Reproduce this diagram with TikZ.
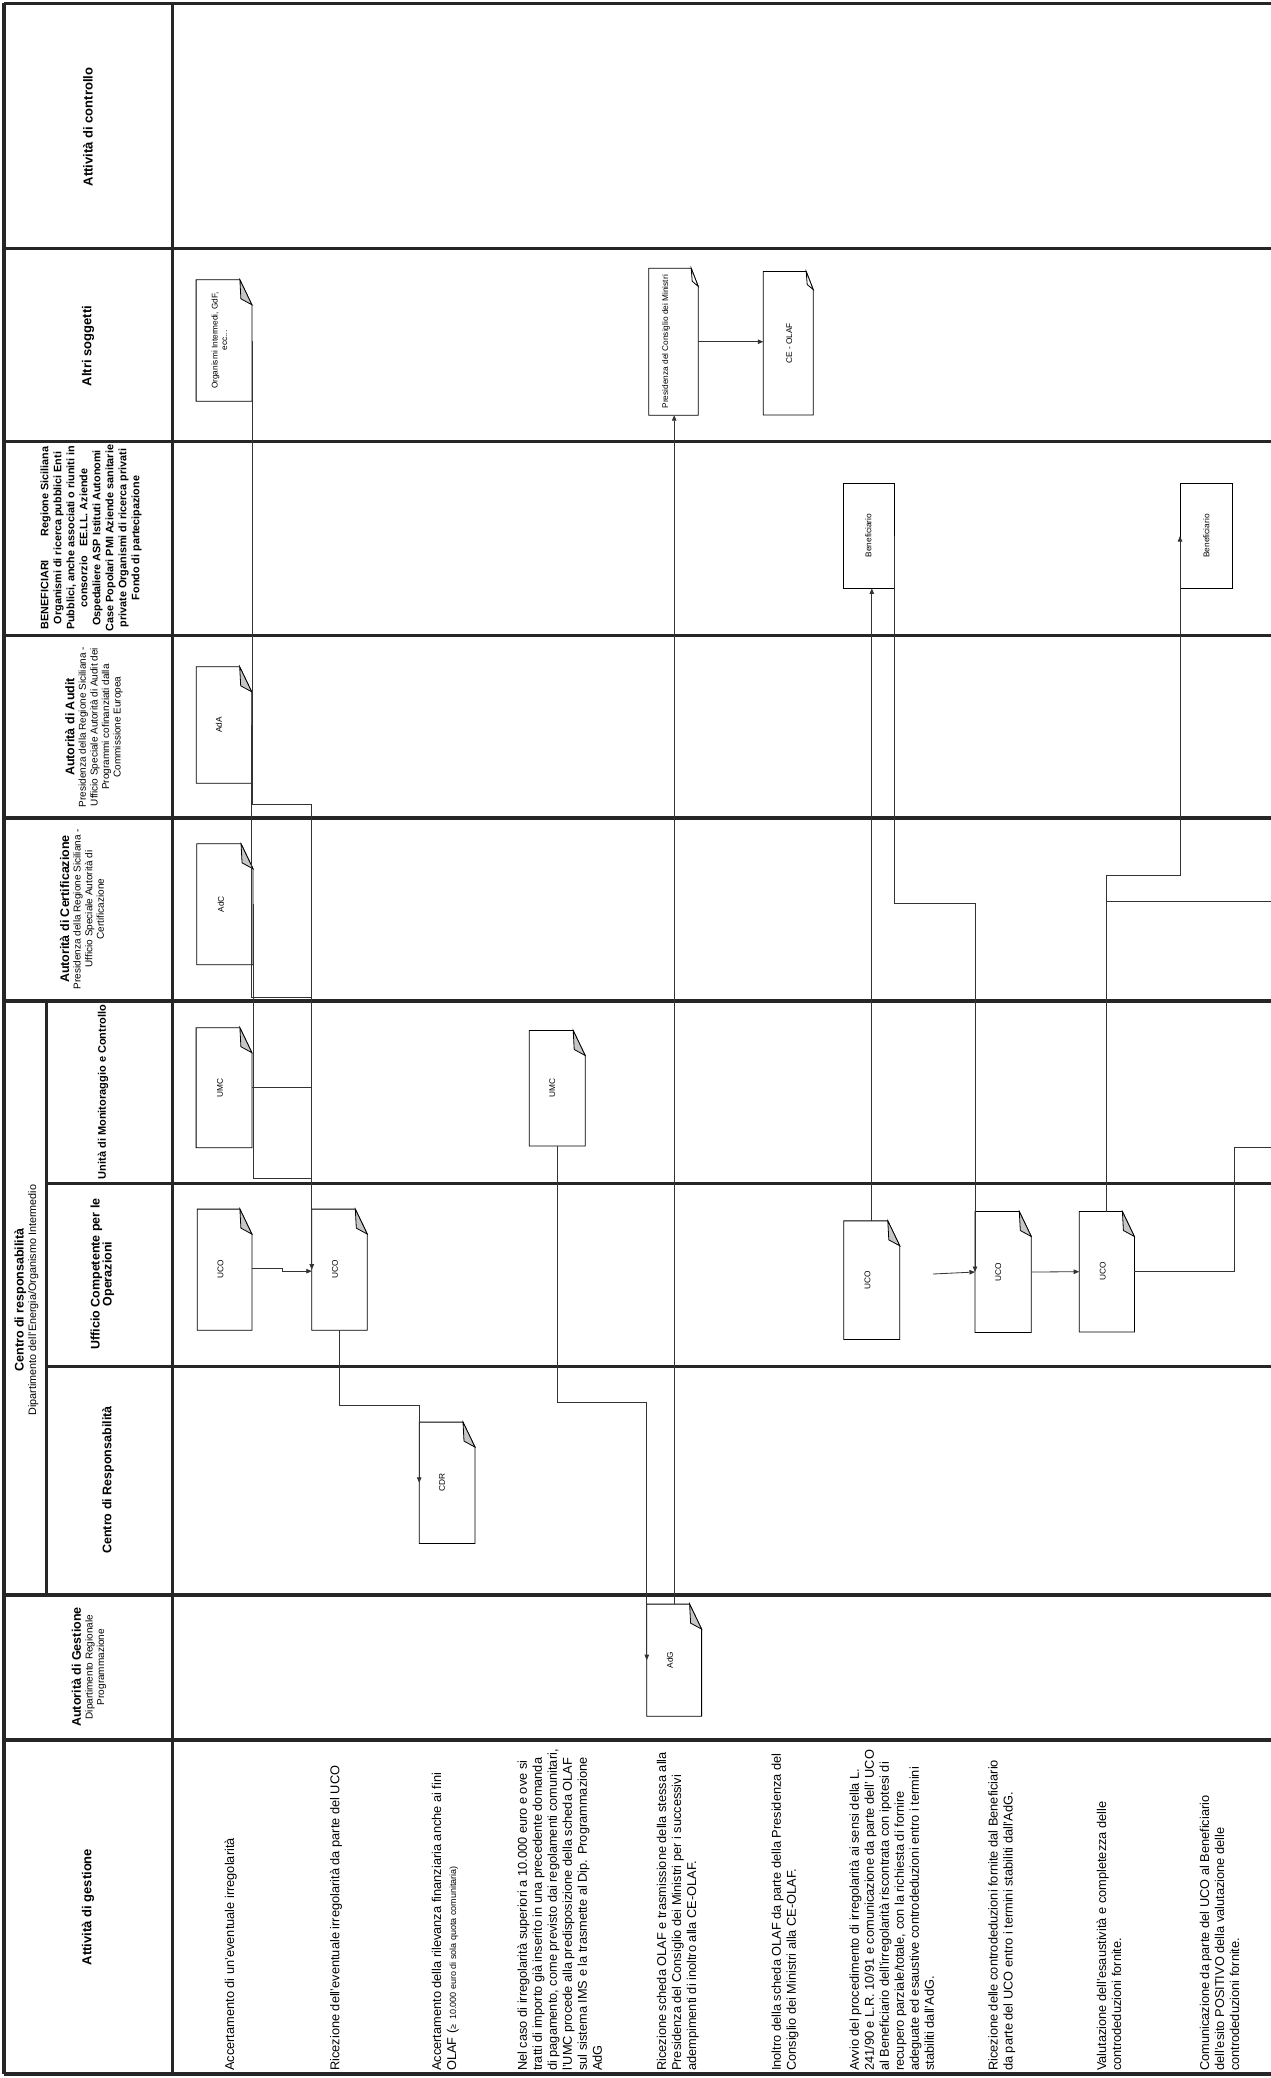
\documentclass[tikz,border=0pt]{standalone}
\usepackage{fontspec}
\setmainfont{Liberation Sans}
\usetikzlibrary{arrows.meta,calc}
\tikzset{
  lane/.style={line width=3.2pt, draw=black!85, line cap=square},
  conn/.style={line width=0.8pt, draw=black!80},
  arr/.style={conn, -{Triangle[length=5.5pt,width=4.5pt]}},
  hdr/.style={rotate=90, font=\fontsize{13}{15}\selectfont\bfseries, align=center, inner sep=0pt},
  hdrtwo/.style={rotate=90, font=\fontsize{10}{11.6}\selectfont, align=center, inner sep=0pt},
  hben/.style={rotate=90, font=\fontsize{10.8}{13}\selectfont\bfseries, align=center, inner sep=0pt},
  act/.style={rotate=90, anchor=north west, align=left, inner sep=0pt, font=\fontsize{12.8}{15}\selectfont},
  docbox/.style={rectangle, inner sep=0pt, draw=none},
  docline/.style={line width=0.8pt, draw=black},
  doclbl/.style={rotate=90, inner sep=0pt, align=center, font=\fontsize{8.3}{9.5}\selectfont},
}
\newcommand{\docgray}[1]{%
  \draw[docline, fill=white] (#1.north west) -- ([xshift=-12pt]#1.north east) -- ([yshift=-25pt]#1.north east) -- (#1.south east) -- (#1.south west) -- cycle;
  \draw[docline, fill=gray!45] ([xshift=-12pt]#1.north east) -- ([xshift=-11pt,yshift=-19pt]#1.north east) -- ([yshift=-25pt]#1.north east) -- cycle;}
\newcommand{\docwhite}[1]{%
  \draw[docline, fill=white] (#1.north west) -- ([xshift=-7pt]#1.north east) -- ([yshift=-18pt]#1.north east) -- (#1.south east) -- (#1.south west) -- cycle;
  \draw[docline, fill=white] ([xshift=-7pt]#1.north east) -- ([xshift=-6pt,yshift=-13pt]#1.north east) -- ([yshift=-18pt]#1.north east) -- cycle;}
\begin{document}
\begin{tikzpicture}[x=1pt,y=-1pt]
\useasboundingbox (0,0) rectangle (1271,2078);
\fill[white] (0,0) rectangle (1271,2078);

% ---------- lanes ----------
\foreach \yy in {3.3,248.4,441.7,635.5,818,1001,1595,1740,2074}
  \draw[lane] (4,\yy) -- (1275,\yy);
\foreach \yy in {1183.5,1366.5}
  \draw[lane] (46.7,\yy) -- (1275,\yy);
\draw[lane] (4,3.3) -- (4,2074);
\draw[lane] (172.7,3.3) -- (172.7,2074);
\draw[lane] (46.7,1001) -- (46.7,1595);

% ---------- lane headers ----------
\node[hdr] (hctrl) at (88,127) {Attività di controllo};
\node[hdr] (haltri) at (88,346) {Altri soggetti};
\node[hben] (hben) at (91,538) {BENEFICIARI\hspace{2.2em}Regione Siciliana\\Organismi di ricerca pubblici Enti\\Pubblici, anche associati o riuniti in\\consorzio\hspace{0.9em}EE.LL. Aziende\\Ospedaliere ASP Istituti Autonomi\\Case Popolari PMI Aziende sanitarie\\private Organismi di ricerca privati\\Fondo di partecipazione};
\node[hdrtwo] (haud) at (94,727) {{\fontsize{12.5}{14}\selectfont\bfseries Autorità di Audit}\\Presidenza della Regione Siciliana -\\Ufficio Speciale Autorità di Audit dei\\Programmi cofinanziati dalla\\Commissione Europea};
\node[hdrtwo] (hcert) at (82,909) {{\fontsize{12.5}{14}\selectfont\bfseries Autorità di Certificazione}\\Presidenza della Regione Siciliana -\\Ufficio Speciale Autorità di\\Certificazione};
\node[hdrtwo, font=\fontsize{10.8}{12.5}\selectfont] (hcdrgrp) at (26.5,1300) {{\fontsize{12.5}{14}\selectfont\bfseries Centro di responsabilità}\\Dipartimento dell'Energia/Organismo Intermedio};
\node[hdr, font=\fontsize{11}{13}\selectfont\bfseries] (humc) at (103,1092) {Unità di Monitoraggio e Controllo};
\node[hdr, font=\fontsize{12.5}{12}\selectfont\bfseries] (huco) at (102.5,1274) {Ufficio Competente per le\\Operazioni};
\node[hdr, font=\fontsize{12.5}{14}\selectfont\bfseries] (hcdr) at (108,1480) {Centro di Responsabilità};
\node[hdrtwo] (hadg) at (89,1667) {{\fontsize{12.5}{14}\selectfont\bfseries Autorità di Gestione}\\Dipartimento Regionale\\Programmazione};
\node[hdr] (hgest) at (88,1907) {Attività di gestione};

% ---------- activity texts ----------
\node[act] (a1) at (224.5,2071) {Accertamento di un'eventuale irregolarità};
\node[act] (a2) at (329.8,2071) {Ricezione dell'eventuale irregolarità da parte del UCO};
\node[act] (a3) at (431.6,2071) {Accertamento della rilevanza finanziaria anche ai fini\\OLAF ({\fontsize{9}{15}\selectfont ≥\ \ 10.000 euro di sola quota comunitaria)}};
\node[act] (a4) at (517.3,2071) {Nel caso di irregolarità superiori a 10.000 euro e ove si\\tratti di importo già inserito in una precedente domanda\\di pagamento, come previsto dai regolamenti comunitari,\\l'UMC procede alla predisposizione della scheda OLAF\\sul sistema IMS e la trasmette al Dip. Programmazione\\AdG};
\node[act] (a5) at (656.6,2071) {Ricezione scheda OLAF e trasmissione della stessa alla\\Presidenza del Consiglio dei Ministri per i successivi\\adempimenti di inoltro alla CE-OLAF.};
\node[act] (a6) at (771.3,2071) {Inoltro della scheda OLAF da parte della Presidenza del\\Consiglio dei Ministri alla CE-OLAF.};
\node[act] (a7) at (849.2,2071) {Avvio del procedimento di irregolarità ai sensi della L.\\241/90 e L.R. 10/91 e comunicazione da parte dell' UCO\\al Beneficiario dell'irregolarità riscontrata con ipotesi di\\recupero parziale/totale, con la richiesta di fornire\\adeguate ed esaustive controdeduzioni entro i termini\\stabiliti dall'AdG.};
\node[act] (a8) at (988.1,2071) {Ricezione delle controdeduzioni fornite dal Beneficiario\\da parte del UCO entro i termini stabiliti dall'AdG.};
\node[act] (a9) at (1096.4,2071) {Valutazione dell'esaustività e completezza delle\\controdeduzioni fornite.};
\node[act] (a10) at (1199.7,2071) {Comunicazione da parte del UCO al Beneficiario\\dell'esito POSITIVO della valutazione delle\\controdeduzioni fornite.};

% ---------- documents ----------
\node[docbox, minimum width=55.4pt, minimum height=121pt] (org) at (224,340.5) {};
\docgray{org}
\node[doclbl] (orgt) at ([xshift=-4.5pt]org.center) {Organismi Intermedi, GdF,\\ecc...};

\node[docbox, minimum width=49pt, minimum height=146.5pt] (pres) at (673.5,341.75) {};
\docwhite{pres}
\node[doclbl] (prest) at ([xshift=-7.5pt]pres.center) {Presidenza del Consiglio dei Ministri};

\node[docbox, minimum width=49.5pt, minimum height=143pt] (ceolaf) at (788.25,343.25) {};
\docwhite{ceolaf}
\node[doclbl] (ceolaft) at ([xshift=1pt]ceolaf.center) {CE - OLAF};

\node[docbox, docline, minimum width=51pt, minimum height=105pt] (ben1) at (868.5,535.5) {};
\node[doclbl] (ben1t) at (ben1.center) {Beneficiario};
\node[docbox, docline, minimum width=52pt, minimum height=104.5pt] (ben2) at (1206.4,536) {};
\node[doclbl] (ben2t) at (ben2.center) {Beneficiario};

\node[docbox, minimum width=55pt, minimum height=116pt] (ada) at (224,725) {};
\docgray{ada}
\node[doclbl] (adat) at ([xshift=-5pt]ada.center) {AdA};

\node[docbox, minimum width=56pt, minimum height=120.6pt] (adc) at (224.85,904.3) {};
\docgray{adc}
\node[doclbl] (adct) at ([xshift=-4pt]adc.center) {AdC};

\node[docbox, minimum width=55.4pt, minimum height=119.6pt] (umc1) at (224,1087.7) {};
\docgray{umc1}
\node[doclbl] (umc1t) at ([xshift=-4pt]umc1.center) {UMC};

\node[docbox, minimum width=55.5pt, minimum height=115pt] (umc2) at (557.25,1088.2) {};
\docgray{umc2}
\node[doclbl] (umc2t) at ([xshift=-5pt]umc2.center) {UMC};

\node[docbox, minimum width=54.3pt, minimum height=120.7pt] (uco1) at (224.55,1269.65) {};
\docgray{uco1}
\node[doclbl] (uco1t) at ([xshift=-4pt]uco1.center) {UCO};

\node[docbox, minimum width=55.1pt, minimum height=120.7pt] (uco2) at (339.55,1269.65) {};
\docgray{uco2}
\node[doclbl] (uco2t) at ([xshift=-4.6pt]uco2.center) {UCO};

\node[docbox, minimum width=55.6pt, minimum height=118.3pt] (uco3) at (871.8,1280.2) {};
\docgray{uco3}
\node[doclbl] (uco3t) at ([xshift=-4.4pt]uco3.center) {UCO};

\node[docbox, minimum width=55.9pt, minimum height=120.6pt] (uco4) at (1003.15,1272) {};
\docgray{uco4}
\node[doclbl] (uco4t) at ([xshift=-5pt]uco4.center) {UCO};

\node[docbox, minimum width=54.8pt, minimum height=120pt] (uco5) at (1106.8,1271.7) {};
\docgray{uco5}
\node[doclbl] (uco5t) at ([xshift=-4pt]uco5.center) {UCO};

\node[docbox, minimum width=55.4pt, minimum height=121pt] (cdr) at (447.1,1482.8) {};
\docgray{cdr}
\node[doclbl] (cdrt) at ([xshift=-5pt]cdr.center) {CDR};

\node[docbox, minimum width=54.4pt, minimum height=111.7pt] (adg) at (674.2,1660.15) {};
\docgray{adg}
\node[doclbl] (adgt) at ([xshift=-4.4pt]adg.center) {AdG};

% ---------- routing coordinates ----------
\coordinate (k1) at (0,804.5);
\coordinate (k2) at (0,997);
\coordinate (k3) at (0,1178);
\coordinate (k6) at (0,1405.7);
\coordinate (k7) at (0,1402.3);
\coordinate (k11) at (0,903.3);
\coordinate (k15) at (0,875.3);
\coordinate (x14) at (1234.8,0);
\coordinate (f12) at (933,1274);
\coordinate (e14) at (1272,1147.3);
\coordinate (e16) at (1272,901);

% ---------- connectors ----------
\draw[arr] (org.east) -- (org.east |- k1) -- (uco2.west |- k1) -- (uco2.west);
\draw[conn] (ada.east) -- (ada.east |- k2) -- (uco2.west |- k2);
\draw[conn] (adc.east) -- (adc.east |- k3) -- (uco2.west |- k3);
\draw[conn] (umc1.east) -- (umc1.east -| uco2.west);
\draw[arr] ([yshift=1.5pt]uco1.east) -- ++(30,0) -- ++(0,3) -- ([yshift=-1.5pt]uco2.west);
\draw[arr] (uco2.south) -- (uco2.south |- k6) -- (cdr.west |- k6) -- (cdr.west);
\draw[arr] (umc2.south) -- (umc2.south |- k7) -- (adg.west |- k7) -- (adg.west);
\draw[arr] (adg.north) -- (adg.north |- pres.south);
\draw[arr] (pres.east) -- (pres.east -| ceolaf.west);
\draw[arr] (uco3.north) -- (uco3.north |- ben1.south);
\draw[arr] (ben1.east) -- (ben1.east |- k11) -- (uco4.west |- k11) -- (uco4.west);
\draw[arr] (f12) -- (uco4.west);
\draw[arr] (uco4.east) -- (uco5.west);
\draw[conn] (uco5.east) -- (uco5.east -| x14) -- (x14 |- e14) -- (e14);
\draw[arr] (uco5.north) -- (uco5.north |- k15) -- (ben2.west |- k15) -- (ben2.west);
\draw[conn] (e16) -- (e16 -| uco5.north);
\end{tikzpicture}
\end{document}
